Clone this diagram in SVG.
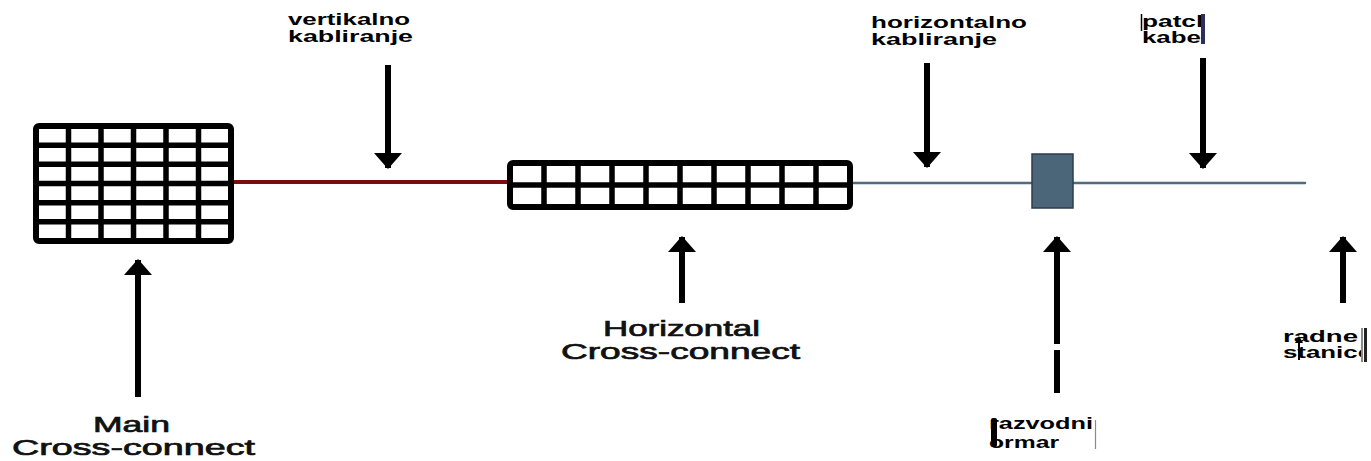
<svg xmlns="http://www.w3.org/2000/svg" width="1371" height="461" viewBox="0 0 1371 461">
  <defs>
    <style>
      .panel { fill: #ffffff; stroke: #000000; stroke-width: 6; stroke-linejoin: round; }
      .grid { stroke: #000000; stroke-width: 5.5; }
      .arrow { stroke: #000000; stroke-width: 6; fill: none; marker-end: url(#head); }
      .tag { font-family: "Liberation Sans", Arial, sans-serif; font-weight: bold; font-size: 16px; fill: #000000; }
      .cap { font-family: "Liberation Sans", Arial, sans-serif; font-size: 22px; fill: #111111; stroke: #111111; stroke-width: 0.7; }
    </style>
    <marker id="head" viewBox="0 -14 16 28" markerWidth="16" markerHeight="28" refX="15" refY="0" markerUnits="userSpaceOnUse" orient="auto">
      <path d="M0,-14 L16,0 L0,14 Z" fill="#000000"/>
    </marker>
    <clipPath id="clip-patch"><rect x="1138" y="0" width="64" height="60"/></clipPath>
    <clipPath id="clip-radne"><rect x="1270" y="320" width="92" height="50"/></clipPath>
  </defs>

  <rect width="1371" height="461" fill="#ffffff"/>

  <!-- connectors: cabling runs and pointer arrows -->
  <g id="connectors">
    <line x1="231" y1="182" x2="510" y2="182" stroke="#7b0d0d" stroke-width="4"/>
    <line x1="850" y1="183" x2="1305" y2="183" stroke="#4f6b80" stroke-width="2.5" stroke-linecap="round"/>

    <line class="arrow" x1="388" y1="65" x2="388" y2="168"/>
    <line class="arrow" x1="927" y1="63" x2="927" y2="167"/>
    <line class="arrow" x1="1203" y1="58" x2="1203" y2="168"/>
    <line class="arrow" x1="138" y1="397" x2="138" y2="260"/>
    <line class="arrow" x1="682" y1="303" x2="682" y2="237"/>
    <line class="arrow" x1="1057" y1="393" x2="1057" y2="237"/>
    <rect x="1053" y="344" width="8" height="6" fill="#ffffff"/>
    <line class="arrow" x1="1343" y1="303" x2="1343" y2="237"/>
  </g>

  <!-- main cross-connect panel: 6 x 6 ports -->
  <g id="main-cross-connect">
    <rect class="panel" x="36" y="126" width="195" height="115" rx="3"/>
    <g class="grid">
      <line x1="68.5" y1="126" x2="68.5" y2="241"/>
      <line x1="101" y1="126" x2="101" y2="241"/>
      <line x1="133.5" y1="126" x2="133.5" y2="241"/>
      <line x1="166" y1="126" x2="166" y2="241"/>
      <line x1="198.5" y1="126" x2="198.5" y2="241"/>
      <line x1="36" y1="145.2" x2="231" y2="145.2"/>
      <line x1="36" y1="164.3" x2="231" y2="164.3"/>
      <line x1="36" y1="183.5" x2="231" y2="183.5"/>
      <line x1="36" y1="202.7" x2="231" y2="202.7"/>
      <line x1="36" y1="221.8" x2="231" y2="221.8"/>
    </g>
    <text class="cap" x="93" y="432" textLength="77" lengthAdjust="spacingAndGlyphs">Main</text>
    <text class="cap" x="12" y="455" textLength="243" lengthAdjust="spacingAndGlyphs">Cross-connect</text>
  </g>

  <!-- horizontal cross-connect panel: 10 x 2 ports -->
  <g id="horizontal-cross-connect">
    <rect class="panel" x="510" y="163" width="340" height="44" rx="3"/>
    <g class="grid">
      <line x1="544" y1="163" x2="544" y2="207"/>
      <line x1="578" y1="163" x2="578" y2="207"/>
      <line x1="612" y1="163" x2="612" y2="207"/>
      <line x1="646" y1="163" x2="646" y2="207"/>
      <line x1="680" y1="163" x2="680" y2="207"/>
      <line x1="714" y1="163" x2="714" y2="207"/>
      <line x1="748" y1="163" x2="748" y2="207"/>
      <line x1="782" y1="163" x2="782" y2="207"/>
      <line x1="816" y1="163" x2="816" y2="207"/>
      <line x1="510" y1="185" x2="850" y2="185"/>
    </g>
    <text class="cap" x="603" y="336" textLength="157" lengthAdjust="spacingAndGlyphs">Horizontal</text>
    <text class="cap" x="561" y="359" textLength="239" lengthAdjust="spacingAndGlyphs">Cross-connect</text>
  </g>

  <!-- distribution cabinet -->
  <g id="razvodni-ormar">
    <rect x="1032" y="154" width="41" height="54" fill="#4b6579" stroke="#2c3e4c" stroke-width="1.5"/>
    <text class="tag" x="989" y="429" textLength="104" lengthAdjust="spacingAndGlyphs">razvodni</text>
    <text class="tag" x="989" y="448" textLength="70" lengthAdjust="spacingAndGlyphs">ormar</text>
    <rect x="991" y="418" width="6" height="29" rx="2" fill="#000000"/>
    <line x1="1095.5" y1="420" x2="1095.5" y2="449" stroke="#8a8a8a" stroke-width="1.2"/>
  </g>

  <!-- cabling labels -->
  <g id="vertikalno-kabliranje">
    <text class="tag" x="288" y="25" textLength="122" lengthAdjust="spacingAndGlyphs">vertikalno</text>
    <text class="tag" x="288" y="42" textLength="125" lengthAdjust="spacingAndGlyphs">kabliranje</text>
  </g>

  <g id="horizontalno-kabliranje">
    <text class="tag" x="871" y="28" textLength="156" lengthAdjust="spacingAndGlyphs">horizontalno</text>
    <text class="tag" x="871" y="45" textLength="126" lengthAdjust="spacingAndGlyphs">kabliranje</text>
  </g>

  <g id="patch-kabel">
    <g clip-path="url(#clip-patch)">
      <text class="tag" x="1142" y="27" textLength="70" lengthAdjust="spacingAndGlyphs">patch</text>
      <text class="tag" x="1142" y="43" textLength="66" lengthAdjust="spacingAndGlyphs">kabel</text>
    </g>
    <line x1="1141.5" y1="14" x2="1141.5" y2="31" stroke="#000000" stroke-width="1.5"/>
    <rect x="1201" y="14" width="4" height="30" fill="#2e2e5c"/>
  </g>

  <!-- workstations -->
  <g id="radne-stanice">
    <g clip-path="url(#clip-radne)">
      <text class="tag" x="1283" y="342" textLength="75" lengthAdjust="spacingAndGlyphs">radne</text>
      <text class="tag" x="1283" y="358" textLength="89" lengthAdjust="spacingAndGlyphs">stanice</text>
    </g>
    <line x1="1299" y1="342" x2="1299" y2="360" stroke="#000000" stroke-width="2"/>
    <path d="M1295,343 L1299,336 L1303,343 Z" fill="#000000"/>
    <rect x="1361" y="328" width="2" height="34" fill="#8a8a8a"/>
    <rect x="1364" y="328" width="3" height="34" fill="#222222"/>
  </g>
</svg>
